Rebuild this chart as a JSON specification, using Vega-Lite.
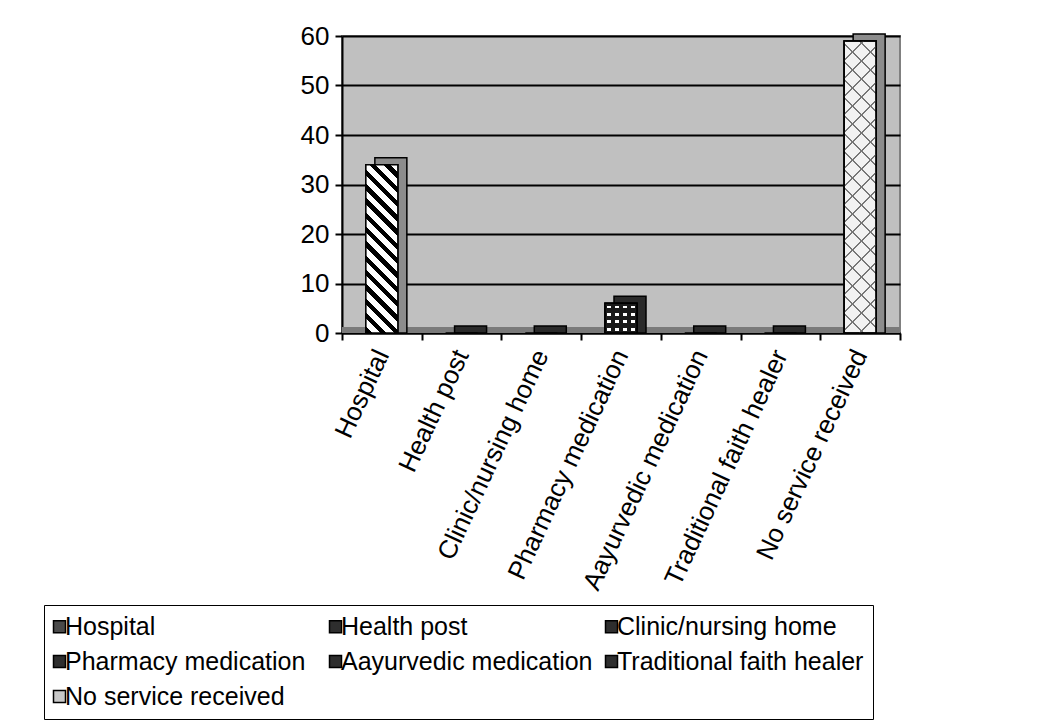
{
  "$schema": "https://vega.github.io/schema/vega-lite/v6.json",
  "width": 558,
  "height": 297,
  "autosize": {"type": "none"},
  "padding": {"left": 342, "top": 36, "right": 162, "bottom": 395},
  "background": "white",
  "data": {
    "values": [
      {"cat": "Hospital", "value": 34},
      {"cat": "Health post", "value": 0},
      {"cat": "Clinic/nursing home", "value": 0},
      {"cat": "Pharmacy medication", "value": 6},
      {"cat": "Aayurvedic medication", "value": 0},
      {"cat": "Traditional faith healer", "value": 0},
      {"cat": "No service received", "value": 59}
    ]
  },
  "layer": [
    {
      "mark": {"type": "rule", "color": "#7a7a7a", "strokeWidth": 6, "yOffset": -3},
      "encoding": {"y": {"datum": 0, "type": "quantitative", "scale": {"domain": [0, 60]}}}
    },
    {
      "mark": {"type": "bar", "width": 32, "xOffset": 9, "yOffset": -7, "y2Offset": 0, "stroke": "black", "strokeWidth": 1.5},
      "encoding": {
        "x": {"field": "cat", "type": "nominal", "sort": ["Hospital", "Health post", "Clinic/nursing home", "Pharmacy medication", "Aayurvedic medication", "Traditional faith healer", "No service received"], "scale": {"paddingInner": 0, "paddingOuter": 0}, "title": null},
        "y": {"field": "value", "type": "quantitative", "scale": {"domain": [0, 60]}, "title": null},
        "y2": {"datum": 0},
        "fill": {"condition": {"test": "datum.value > 20", "value": "#8c8c8c"}, "value": "#2a2a2a"}
      }
    },
    {
      "mark": {"type": "bar", "width": 32, "stroke": "black", "strokeWidth": 1.5},
      "encoding": {
        "x": {"field": "cat", "type": "nominal", "sort": ["Hospital", "Health post", "Clinic/nursing home", "Pharmacy medication", "Aayurvedic medication", "Traditional faith healer", "No service received"], "scale": {"paddingInner": 0, "paddingOuter": 0}, "title": null},
        "y": {"field": "value", "type": "quantitative", "scale": {"domain": [0, 60]}, "title": null},
        "y2": {"datum": 0},
        "color": {
          "field": "cat", "type": "nominal",
          "sort": ["Hospital", "Health post", "Clinic/nursing home", "Pharmacy medication", "Aayurvedic medication", "Traditional faith healer", "No service received"],
          "scale": {
            "domain": ["Hospital", "Health post", "Clinic/nursing home", "Pharmacy medication", "Aayurvedic medication", "Traditional faith healer", "No service received"],
            "range": ["#4a4a4a", "#2e2e2e", "#2e2e2e", "#2e2e2e", "#2e2e2e", "#2e2e2e", "#c8c8c8"]
          },
          "legend": {
            "title": null,
            "orient": "none",
            "direction": "horizontal",
            "legendX": -298,
            "legendY": 569,
            "columns": 3,
            "gridAlign": "all",
            "columnPadding": 9,
            "rowPadding": 9,
            "padding": 9,
            "strokeColor": "black",
            "symbolType": "square",
            "symbolSize": 144,
            "symbolOffset": -6,
            "symbolStrokeColor": "black",
            "symbolStrokeWidth": 1.5,
            "symbolOpacity": 1,
            "labelFont": "Liberation Sans",
            "labelFontSize": 25,
            "labelColor": "black",
            "labelLimit": 400,
            "labelOffset": -7
          }
        }
      }
    },
    {
      "transform": [{"filter": "datum.cat === 'Hospital'"}],
      "mark": {
        "type": "bar", "width": 32, "stroke": "black", "strokeWidth": 1.5,
        "fill": {
          "gradient": "linear", "x1": 0, "y1": 1, "x2": 0.2184, "y2": -0.1487,
          "stops": [
            {"offset": 0, "color": "black"}, {"offset": 0.032143, "color": "black"}, {"offset": 0.032143, "color": "white"}, {"offset": 0.071429, "color": "white"},
            {"offset": 0.071429, "color": "black"}, {"offset": 0.103571, "color": "black"}, {"offset": 0.103571, "color": "white"}, {"offset": 0.142857, "color": "white"},
            {"offset": 0.142857, "color": "black"}, {"offset": 0.175, "color": "black"}, {"offset": 0.175, "color": "white"}, {"offset": 0.214286, "color": "white"},
            {"offset": 0.214286, "color": "black"}, {"offset": 0.246429, "color": "black"}, {"offset": 0.246429, "color": "white"}, {"offset": 0.285714, "color": "white"},
            {"offset": 0.285714, "color": "black"}, {"offset": 0.317857, "color": "black"}, {"offset": 0.317857, "color": "white"}, {"offset": 0.357143, "color": "white"},
            {"offset": 0.357143, "color": "black"}, {"offset": 0.389286, "color": "black"}, {"offset": 0.389286, "color": "white"}, {"offset": 0.428571, "color": "white"},
            {"offset": 0.428571, "color": "black"}, {"offset": 0.460714, "color": "black"}, {"offset": 0.460714, "color": "white"}, {"offset": 0.5, "color": "white"},
            {"offset": 0.5, "color": "black"}, {"offset": 0.532143, "color": "black"}, {"offset": 0.532143, "color": "white"}, {"offset": 0.571429, "color": "white"},
            {"offset": 0.571429, "color": "black"}, {"offset": 0.603571, "color": "black"}, {"offset": 0.603571, "color": "white"}, {"offset": 0.642857, "color": "white"},
            {"offset": 0.642857, "color": "black"}, {"offset": 0.675, "color": "black"}, {"offset": 0.675, "color": "white"}, {"offset": 0.714286, "color": "white"},
            {"offset": 0.714286, "color": "black"}, {"offset": 0.746429, "color": "black"}, {"offset": 0.746429, "color": "white"}, {"offset": 0.785714, "color": "white"},
            {"offset": 0.785714, "color": "black"}, {"offset": 0.817857, "color": "black"}, {"offset": 0.817857, "color": "white"}, {"offset": 0.857143, "color": "white"},
            {"offset": 0.857143, "color": "black"}, {"offset": 0.889286, "color": "black"}, {"offset": 0.889286, "color": "white"}, {"offset": 0.928571, "color": "white"},
            {"offset": 0.928571, "color": "black"}, {"offset": 0.960714, "color": "black"}, {"offset": 0.960714, "color": "white"}, {"offset": 1, "color": "white"}
          ]
        }
      },
      "encoding": {
        "x": {"field": "cat", "type": "nominal", "sort": ["Hospital", "Health post", "Clinic/nursing home", "Pharmacy medication", "Aayurvedic medication", "Traditional faith healer", "No service received"], "scale": {"paddingInner": 0, "paddingOuter": 0}, "title": null},
        "y": {"field": "value", "type": "quantitative", "scale": {"domain": [0, 60]}, "title": null},
        "y2": {"datum": 0}
      }
    },
    {
      "transform": [{"filter": "datum.cat === 'Pharmacy medication'"}],
      "mark": {
        "type": "bar", "width": 32, "stroke": "black", "strokeWidth": 1.5,
        "fill": {
          "gradient": "linear", "x1": 0, "y1": 0, "x2": 1, "y2": 0,
          "stops": [
            {"offset": 0, "color": "#1a1a1a"}, {"offset": 0.075, "color": "#1a1a1a"}, {"offset": 0.075, "color": "white"}, {"offset": 0.175, "color": "white"}, {"offset": 0.175, "color": "#1a1a1a"}, {"offset": 0.25, "color": "#1a1a1a"},
            {"offset": 0.25, "color": "#1a1a1a"}, {"offset": 0.325, "color": "#1a1a1a"}, {"offset": 0.325, "color": "white"}, {"offset": 0.425, "color": "white"}, {"offset": 0.425, "color": "#1a1a1a"}, {"offset": 0.5, "color": "#1a1a1a"},
            {"offset": 0.5, "color": "#1a1a1a"}, {"offset": 0.575, "color": "#1a1a1a"}, {"offset": 0.575, "color": "white"}, {"offset": 0.675, "color": "white"}, {"offset": 0.675, "color": "#1a1a1a"}, {"offset": 0.75, "color": "#1a1a1a"},
            {"offset": 0.75, "color": "#1a1a1a"}, {"offset": 0.825, "color": "#1a1a1a"}, {"offset": 0.825, "color": "white"}, {"offset": 0.925, "color": "white"}, {"offset": 0.925, "color": "#1a1a1a"}, {"offset": 1, "color": "#1a1a1a"}
          ]
        }
      },
      "encoding": {
        "x": {"field": "cat", "type": "nominal", "sort": ["Hospital", "Health post", "Clinic/nursing home", "Pharmacy medication", "Aayurvedic medication", "Traditional faith healer", "No service received"], "scale": {"paddingInner": 0, "paddingOuter": 0}, "title": null},
        "y": {"field": "value", "type": "quantitative", "scale": {"domain": [0, 60]}, "title": null},
        "y2": {"datum": 0}
      }
    },
    {
      "transform": [{"filter": "datum.cat === 'Pharmacy medication'"}],
      "mark": {
        "type": "bar", "width": 32, "stroke": "black", "strokeWidth": 1.5,
        "fill": {
          "gradient": "linear", "x1": 0, "y1": 0, "x2": 0, "y2": 1,
          "stops": [
            {"offset": 0, "color": "#1a1a1a"}, {"offset": 0.075, "color": "#1a1a1a"}, {"offset": 0.075, "color": "rgba(0,0,0,0)"}, {"offset": 0.175, "color": "rgba(0,0,0,0)"}, {"offset": 0.175, "color": "#1a1a1a"}, {"offset": 0.25, "color": "#1a1a1a"},
            {"offset": 0.25, "color": "#1a1a1a"}, {"offset": 0.325, "color": "#1a1a1a"}, {"offset": 0.325, "color": "rgba(0,0,0,0)"}, {"offset": 0.425, "color": "rgba(0,0,0,0)"}, {"offset": 0.425, "color": "#1a1a1a"}, {"offset": 0.5, "color": "#1a1a1a"},
            {"offset": 0.5, "color": "#1a1a1a"}, {"offset": 0.575, "color": "#1a1a1a"}, {"offset": 0.575, "color": "rgba(0,0,0,0)"}, {"offset": 0.675, "color": "rgba(0,0,0,0)"}, {"offset": 0.675, "color": "#1a1a1a"}, {"offset": 0.75, "color": "#1a1a1a"},
            {"offset": 0.75, "color": "#1a1a1a"}, {"offset": 0.825, "color": "#1a1a1a"}, {"offset": 0.825, "color": "rgba(0,0,0,0)"}, {"offset": 0.925, "color": "rgba(0,0,0,0)"}, {"offset": 0.925, "color": "#1a1a1a"}, {"offset": 1, "color": "#1a1a1a"}
          ]
        }
      },
      "encoding": {
        "x": {"field": "cat", "type": "nominal", "sort": ["Hospital", "Health post", "Clinic/nursing home", "Pharmacy medication", "Aayurvedic medication", "Traditional faith healer", "No service received"], "scale": {"paddingInner": 0, "paddingOuter": 0}, "title": null},
        "y": {"field": "value", "type": "quantitative", "scale": {"domain": [0, 60]}, "title": null},
        "y2": {"datum": 0}
      }
    },
    {
      "transform": [{"filter": "datum.cat === 'No service received'"}],
      "mark": {
        "type": "bar", "width": 32, "stroke": "black", "strokeWidth": 1.5,
        "fill": {
          "gradient": "linear", "x1": 0, "y1": 1, "x2": 0.12012, "y2": -0.09625,
          "stops": [
            {"offset": 0, "color": "#777777"}, {"offset": 0.008333, "color": "#777777"}, {"offset": 0.008333, "color": "#f2f2f2"}, {"offset": 0.055556, "color": "#f2f2f2"},
            {"offset": 0.055556, "color": "#777777"}, {"offset": 0.063889, "color": "#777777"}, {"offset": 0.063889, "color": "#f2f2f2"}, {"offset": 0.111111, "color": "#f2f2f2"},
            {"offset": 0.111111, "color": "#777777"}, {"offset": 0.119444, "color": "#777777"}, {"offset": 0.119444, "color": "#f2f2f2"}, {"offset": 0.166667, "color": "#f2f2f2"},
            {"offset": 0.166667, "color": "#777777"}, {"offset": 0.175, "color": "#777777"}, {"offset": 0.175, "color": "#f2f2f2"}, {"offset": 0.222222, "color": "#f2f2f2"},
            {"offset": 0.222222, "color": "#777777"}, {"offset": 0.230556, "color": "#777777"}, {"offset": 0.230556, "color": "#f2f2f2"}, {"offset": 0.277778, "color": "#f2f2f2"},
            {"offset": 0.277778, "color": "#777777"}, {"offset": 0.286111, "color": "#777777"}, {"offset": 0.286111, "color": "#f2f2f2"}, {"offset": 0.333333, "color": "#f2f2f2"},
            {"offset": 0.333333, "color": "#777777"}, {"offset": 0.341667, "color": "#777777"}, {"offset": 0.341667, "color": "#f2f2f2"}, {"offset": 0.388889, "color": "#f2f2f2"},
            {"offset": 0.388889, "color": "#777777"}, {"offset": 0.397222, "color": "#777777"}, {"offset": 0.397222, "color": "#f2f2f2"}, {"offset": 0.444444, "color": "#f2f2f2"},
            {"offset": 0.444444, "color": "#777777"}, {"offset": 0.452778, "color": "#777777"}, {"offset": 0.452778, "color": "#f2f2f2"}, {"offset": 0.5, "color": "#f2f2f2"},
            {"offset": 0.5, "color": "#777777"}, {"offset": 0.508333, "color": "#777777"}, {"offset": 0.508333, "color": "#f2f2f2"}, {"offset": 0.555556, "color": "#f2f2f2"},
            {"offset": 0.555556, "color": "#777777"}, {"offset": 0.563889, "color": "#777777"}, {"offset": 0.563889, "color": "#f2f2f2"}, {"offset": 0.611111, "color": "#f2f2f2"},
            {"offset": 0.611111, "color": "#777777"}, {"offset": 0.619444, "color": "#777777"}, {"offset": 0.619444, "color": "#f2f2f2"}, {"offset": 0.666667, "color": "#f2f2f2"},
            {"offset": 0.666667, "color": "#777777"}, {"offset": 0.675, "color": "#777777"}, {"offset": 0.675, "color": "#f2f2f2"}, {"offset": 0.722222, "color": "#f2f2f2"},
            {"offset": 0.722222, "color": "#777777"}, {"offset": 0.730556, "color": "#777777"}, {"offset": 0.730556, "color": "#f2f2f2"}, {"offset": 0.777778, "color": "#f2f2f2"},
            {"offset": 0.777778, "color": "#777777"}, {"offset": 0.786111, "color": "#777777"}, {"offset": 0.786111, "color": "#f2f2f2"}, {"offset": 0.833333, "color": "#f2f2f2"},
            {"offset": 0.833333, "color": "#777777"}, {"offset": 0.841667, "color": "#777777"}, {"offset": 0.841667, "color": "#f2f2f2"}, {"offset": 0.888889, "color": "#f2f2f2"},
            {"offset": 0.888889, "color": "#777777"}, {"offset": 0.897222, "color": "#777777"}, {"offset": 0.897222, "color": "#f2f2f2"}, {"offset": 0.944444, "color": "#f2f2f2"},
            {"offset": 0.944444, "color": "#777777"}, {"offset": 0.952778, "color": "#777777"}, {"offset": 0.952778, "color": "#f2f2f2"}, {"offset": 1, "color": "#f2f2f2"}
          ]
        }
      },
      "encoding": {
        "x": {"field": "cat", "type": "nominal", "sort": ["Hospital", "Health post", "Clinic/nursing home", "Pharmacy medication", "Aayurvedic medication", "Traditional faith healer", "No service received"], "scale": {"paddingInner": 0, "paddingOuter": 0}, "title": null},
        "y": {"field": "value", "type": "quantitative", "scale": {"domain": [0, 60]}, "title": null},
        "y2": {"datum": 0}
      }
    },
    {
      "transform": [{"filter": "datum.cat === 'No service received'"}],
      "mark": {
        "type": "bar", "width": 32, "stroke": "black", "strokeWidth": 1.5,
        "fill": {
          "gradient": "linear", "x1": 0, "y1": 0, "x2": 0.12012, "y2": 1.09625,
          "stops": [
            {"offset": 0, "color": "#777777"}, {"offset": 0.008333, "color": "#777777"}, {"offset": 0.008333, "color": "rgba(0,0,0,0)"}, {"offset": 0.055556, "color": "rgba(0,0,0,0)"},
            {"offset": 0.055556, "color": "#777777"}, {"offset": 0.063889, "color": "#777777"}, {"offset": 0.063889, "color": "rgba(0,0,0,0)"}, {"offset": 0.111111, "color": "rgba(0,0,0,0)"},
            {"offset": 0.111111, "color": "#777777"}, {"offset": 0.119444, "color": "#777777"}, {"offset": 0.119444, "color": "rgba(0,0,0,0)"}, {"offset": 0.166667, "color": "rgba(0,0,0,0)"},
            {"offset": 0.166667, "color": "#777777"}, {"offset": 0.175, "color": "#777777"}, {"offset": 0.175, "color": "rgba(0,0,0,0)"}, {"offset": 0.222222, "color": "rgba(0,0,0,0)"},
            {"offset": 0.222222, "color": "#777777"}, {"offset": 0.230556, "color": "#777777"}, {"offset": 0.230556, "color": "rgba(0,0,0,0)"}, {"offset": 0.277778, "color": "rgba(0,0,0,0)"},
            {"offset": 0.277778, "color": "#777777"}, {"offset": 0.286111, "color": "#777777"}, {"offset": 0.286111, "color": "rgba(0,0,0,0)"}, {"offset": 0.333333, "color": "rgba(0,0,0,0)"},
            {"offset": 0.333333, "color": "#777777"}, {"offset": 0.341667, "color": "#777777"}, {"offset": 0.341667, "color": "rgba(0,0,0,0)"}, {"offset": 0.388889, "color": "rgba(0,0,0,0)"},
            {"offset": 0.388889, "color": "#777777"}, {"offset": 0.397222, "color": "#777777"}, {"offset": 0.397222, "color": "rgba(0,0,0,0)"}, {"offset": 0.444444, "color": "rgba(0,0,0,0)"},
            {"offset": 0.444444, "color": "#777777"}, {"offset": 0.452778, "color": "#777777"}, {"offset": 0.452778, "color": "rgba(0,0,0,0)"}, {"offset": 0.5, "color": "rgba(0,0,0,0)"},
            {"offset": 0.5, "color": "#777777"}, {"offset": 0.508333, "color": "#777777"}, {"offset": 0.508333, "color": "rgba(0,0,0,0)"}, {"offset": 0.555556, "color": "rgba(0,0,0,0)"},
            {"offset": 0.555556, "color": "#777777"}, {"offset": 0.563889, "color": "#777777"}, {"offset": 0.563889, "color": "rgba(0,0,0,0)"}, {"offset": 0.611111, "color": "rgba(0,0,0,0)"},
            {"offset": 0.611111, "color": "#777777"}, {"offset": 0.619444, "color": "#777777"}, {"offset": 0.619444, "color": "rgba(0,0,0,0)"}, {"offset": 0.666667, "color": "rgba(0,0,0,0)"},
            {"offset": 0.666667, "color": "#777777"}, {"offset": 0.675, "color": "#777777"}, {"offset": 0.675, "color": "rgba(0,0,0,0)"}, {"offset": 0.722222, "color": "rgba(0,0,0,0)"},
            {"offset": 0.722222, "color": "#777777"}, {"offset": 0.730556, "color": "#777777"}, {"offset": 0.730556, "color": "rgba(0,0,0,0)"}, {"offset": 0.777778, "color": "rgba(0,0,0,0)"},
            {"offset": 0.777778, "color": "#777777"}, {"offset": 0.786111, "color": "#777777"}, {"offset": 0.786111, "color": "rgba(0,0,0,0)"}, {"offset": 0.833333, "color": "rgba(0,0,0,0)"},
            {"offset": 0.833333, "color": "#777777"}, {"offset": 0.841667, "color": "#777777"}, {"offset": 0.841667, "color": "rgba(0,0,0,0)"}, {"offset": 0.888889, "color": "rgba(0,0,0,0)"},
            {"offset": 0.888889, "color": "#777777"}, {"offset": 0.897222, "color": "#777777"}, {"offset": 0.897222, "color": "rgba(0,0,0,0)"}, {"offset": 0.944444, "color": "rgba(0,0,0,0)"},
            {"offset": 0.944444, "color": "#777777"}, {"offset": 0.952778, "color": "#777777"}, {"offset": 0.952778, "color": "rgba(0,0,0,0)"}, {"offset": 1, "color": "rgba(0,0,0,0)"}
          ]
        }
      },
      "encoding": {
        "x": {"field": "cat", "type": "nominal", "sort": ["Hospital", "Health post", "Clinic/nursing home", "Pharmacy medication", "Aayurvedic medication", "Traditional faith healer", "No service received"], "scale": {"paddingInner": 0, "paddingOuter": 0}, "title": null},
        "y": {"field": "value", "type": "quantitative", "scale": {"domain": [0, 60]}, "title": null},
        "y2": {"datum": 0}
      }
    }
  ],
  "config": {
    "view": {"fill": "#c0c0c0", "stroke": "#808080", "strokeWidth": 2},
    "font": "Liberation Sans",
    "axisY": {
      "grid": true, "gridColor": "black", "gridWidth": 2, "gridOpacity": 1,
      "domainColor": "black", "domainWidth": 2,
      "tickColor": "black", "tickWidth": 2, "tickSize": 7,
      "values": [0, 10, 20, 30, 40, 50, 60],
      "labelFont": "Liberation Sans", "labelFontSize": 26, "labelColor": "black", "labelPadding": 6
    },
    "axisX": {
      "grid": false, "tickBand": "extent",
      "domainColor": "black", "domainWidth": 2,
      "tickColor": "black", "tickWidth": 2, "tickSize": 7,
      "labelAngle": -65, "labelAlign": "right", "labelBaseline": "middle",
      "labelFont": "Liberation Sans", "labelFontSize": 26, "labelColor": "black", "labelPadding": 11, "labelLimit": 400
    }
  }
}
